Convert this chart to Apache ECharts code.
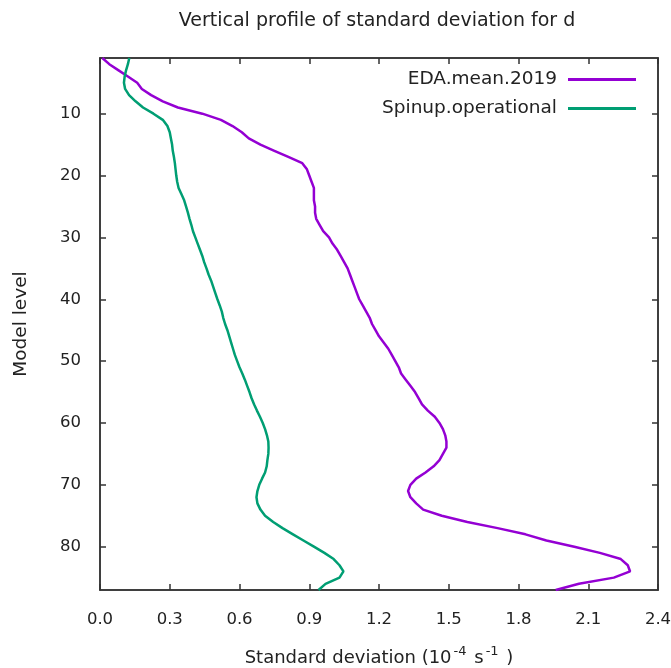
<!DOCTYPE html>
<html>
<head>
<meta charset="utf-8">
<script src="https://cdn.jsdelivr.net/npm/echarts@6/dist/echarts.min.js"></script>
<style>
  html, body { margin: 0; padding: 0; background: #fff; }
  #chart { width: 671px; height: 668px; }
</style>
</head>
<body>
<div id="chart"></div>
<script>
// Model levels 1..87 (top of the model to the surface)
const levels = Array.from({ length: 87 }, (_, i) => i + 1);

// Standard deviation of divergence per level, units of 1e-4 s^-1
const edaMean2019 = [
  0.01, 0.04, 0.08, 0.12, 0.16, 0.18, 0.22, 0.27, 0.335, 0.44,
  0.52, 0.57, 0.61, 0.64, 0.69, 0.75, 0.81, 0.87, 0.89, 0.90,
  0.91, 0.92, 0.92, 0.92, 0.925, 0.925, 0.93, 0.945, 0.96, 0.985,
  1.00, 1.02, 1.035, 1.05, 1.065, 1.075, 1.085, 1.095, 1.105, 1.115,
  1.13, 1.145, 1.16, 1.17, 1.185, 1.20, 1.22, 1.24, 1.255, 1.27,
  1.285, 1.295, 1.315, 1.335, 1.355, 1.37, 1.385, 1.41, 1.44, 1.46,
  1.475, 1.485, 1.49, 1.49, 1.475, 1.46, 1.435, 1.40, 1.36, 1.335,
  1.325, 1.335, 1.36, 1.39, 1.47, 1.58, 1.71, 1.83, 1.92, 2.04,
  2.15, 2.24, 2.27, 2.28, 2.21, 2.06, 1.96
];

const spinupOperational = [
  0.126, 0.12, 0.112, 0.106, 0.103, 0.108, 0.125, 0.153, 0.185, 0.23,
  0.27, 0.29, 0.30, 0.305, 0.31, 0.313, 0.318, 0.322, 0.325, 0.328,
  0.332, 0.338, 0.35, 0.362, 0.37, 0.378, 0.385, 0.393, 0.40, 0.41,
  0.42, 0.43, 0.44, 0.448, 0.458, 0.467, 0.478, 0.487, 0.496, 0.505,
  0.515, 0.524, 0.53, 0.538, 0.548, 0.556, 0.564, 0.572, 0.58, 0.59,
  0.60, 0.612, 0.623, 0.633, 0.643, 0.652, 0.663, 0.675, 0.688, 0.70,
  0.71, 0.718, 0.724, 0.725, 0.724, 0.72, 0.717, 0.71, 0.697, 0.685,
  0.677, 0.673, 0.677, 0.69, 0.71, 0.745, 0.785, 0.83, 0.875, 0.92,
  0.965, 1.005, 1.03, 1.047, 1.03, 0.97, 0.94
];

const seriesNames = ['EDA.mean.2019', 'Spinup.operational'];
const levelTicks = [10, 20, 30, 40, 50, 60, 70, 80];
const xMin = 0, xMax = 2.4, xStep = 0.3;
const levelMin = 1, levelMax = 87;

const FONT = 'DejaVu Sans';
const TEXT = '#222';
const FRAME = '#333';

const pairs = vals => vals.map((v, i) => [v, levels[i]]);

const frameLine = () => ({ show: true, onZero: false, lineStyle: { color: FRAME, width: 1.5 } });
const innerTicks = extra => Object.assign(
  { show: true, inside: true, length: 6, lineStyle: { color: FRAME, width: 1.5 } }, extra || {});

const chart = echarts.init(document.getElementById('chart'), null, { renderer: 'canvas' });
chart.setOption({
  animation: false,
  backgroundColor: '#fff',
  title: {
    text: 'Vertical profile of standard deviation for d',
    left: 372, top: 7, textAlign: 'center',
    textStyle: { fontFamily: FONT, fontSize: 19, fontWeight: 'normal', color: TEXT }
  },
  legend: {
    orient: 'vertical',
    right: 30, top: 65,
    align: 'right',
    icon: 'rect',
    itemWidth: 68, itemHeight: 3,
    itemGap: 10,
    data: seriesNames,
    textStyle: { fontFamily: FONT, fontSize: 18.5, color: TEXT, padding: [0, 6, 0, 0] }
  },
  grid: {
    left: 100, right: 13, top: 58, bottom: 78,
    outerBoundsMode: 'none', containLabel: false,
    show: true, borderColor: FRAME, borderWidth: 1.5, backgroundColor: 'transparent'
  },
  xAxis: [{
    type: 'value', min: xMin, max: xMax, interval: xStep,
    position: 'bottom',
    name: '{t|Standard deviation (10}{s|-4}{t| s}{s|-1}{t| )}',
    nameLocation: 'middle', nameGap: 55,
    nameTextStyle: {
      rich: {
        t: { fontFamily: FONT, fontSize: 18, color: TEXT, verticalAlign: 'bottom', lineHeight: 22 },
        s: { fontFamily: FONT, fontSize: 13, color: TEXT, verticalAlign: 'top', lineHeight: 22, padding: [0, 2, 7, 2] }
      }
    },
    axisLine: frameLine(), axisTick: innerTicks(), splitLine: { show: false },
    axisLabel: { margin: 21, fontFamily: FONT, fontSize: 16.5, color: TEXT, formatter: v => v.toFixed(1) }
  }, {
    type: 'value', min: xMin, max: xMax, interval: xStep,
    position: 'top',
    axisLine: frameLine(), axisTick: innerTicks(), splitLine: { show: false },
    axisLabel: { show: false }
  }],
  yAxis: [{
    type: 'value', min: levelMin, max: levelMax, inverse: true,
    position: 'left',
    name: 'Model level', nameLocation: 'middle', nameGap: 69, nameRotate: 90,
    nameTextStyle: { fontFamily: FONT, fontSize: 18.5, color: TEXT },
    axisLine: frameLine(),
    axisTick: innerTicks({ customValues: levelTicks }),
    splitLine: { show: false },
    axisLabel: { customValues: levelTicks, margin: 19, fontFamily: FONT, fontSize: 16.5, color: TEXT }
  }, {
    type: 'value', min: levelMin, max: levelMax, inverse: true,
    position: 'right',
    axisLine: frameLine(),
    axisTick: innerTicks({ customValues: levelTicks }),
    splitLine: { show: false },
    axisLabel: { show: false }
  }],
  series: [{
    name: seriesNames[0], type: 'line', data: pairs(edaMean2019),
    showSymbol: false, symbol: 'none',
    lineStyle: { color: '#9400d3', width: 2.5 }, itemStyle: { color: '#9400d3' }
  }, {
    name: seriesNames[1], type: 'line', data: pairs(spinupOperational),
    showSymbol: false, symbol: 'none',
    lineStyle: { color: '#009e73', width: 2.5 }, itemStyle: { color: '#009e73' }
  }]
});
</script>
</body>
</html>
